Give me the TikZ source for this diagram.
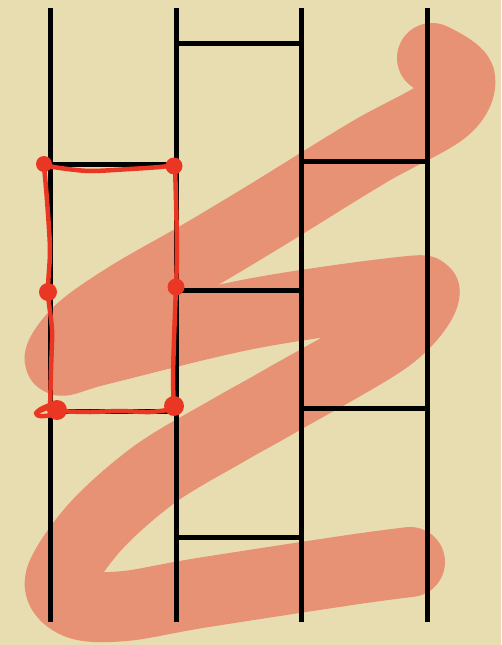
\documentclass[tikz,border=0pt]{standalone}
\usepackage{tikz}
\usetikzlibrary{positioning}
\definecolor{parchment}{RGB}{232,220,177}
\definecolor{brushsalmon}{RGB}{232,146,117}
\definecolor{inkred}{RGB}{233,55,35}

\begin{document}
\begin{tikzpicture}[x=1pt, y=-1pt,
  rail/.style={line width=5pt},
  rung/.style={line width=5pt},
  brush/.style={brushsalmon, line width=70pt, line cap=round, line join=round},
  redline/.style={inkred, line width=4.5pt, line cap=round, line join=round},
  reddot/.style={inkred}]
% Background
\fill[parchment] (0,0) rectangle (501,645);
\useasboundingbox (0,0) rectangle (501,645);

% Brush stroke
\draw[brush, smooth, tension=0.55] plot coordinates {(432,58) (460,78) (444,110) (369,152) (270,213) (200,255) (130,295) (80,330) (60,360) (100,350) (250,314) (400,292) (424,296) (388,338) (282,400) (227,431) (155,474) (95,527) (60,580) (78,604) (125,606) (200,593) (350,570) (410,562)};

% Rails
\foreach \x [count=\i] in {50,176,301,427}
  \draw[rail] (\x,8) coordinate (top\i) -- (\x,622) coordinate (bot\i);

% Rungs
\foreach \y in {43,290,537}
  \draw[rung] (176,\y) -- (301,\y);
\foreach \y in {161,408}
  \draw[rung] (301,\y) -- (427,\y);
\foreach \y in {164,411}
  \draw[rung] (50,\y) -- (176,\y);

% Red box
\draw[redline] plot[smooth, tension=0.5] coordinates {(44,165) (60,168) (90,171) (130,169) (160,167) (175,165)};
\draw[redline] plot[smooth, tension=0.5] coordinates {(175,166) (176,200) (177,250) (176,287) (174,340) (173,380) (174,407)};
\draw[redline] plot[smooth, tension=0.5] coordinates {(44,166) (47,200) (50,250) (48,292) (52,330) (51,370) (50,410)};
\draw[redline] plot[smooth, tension=0.5] coordinates {(36,413) (48,408) (60,411) (90,412) (120,411) (150,412) (174,409)};
\draw[redline] plot[smooth, tension=0.8] coordinates {(50,405) (38,411) (40,416) (58,414)};

% Dots
\fill[reddot] (44,164) circle (8);
\fill[reddot] (174,166) circle (8.5);
\fill[reddot] (48,292) circle (9);
\fill[reddot] (176,287) circle (8.5);
\fill[reddot] (57,410) circle (10);
\fill[reddot] (174,406) circle (10);

\end{tikzpicture}
\end{document}
